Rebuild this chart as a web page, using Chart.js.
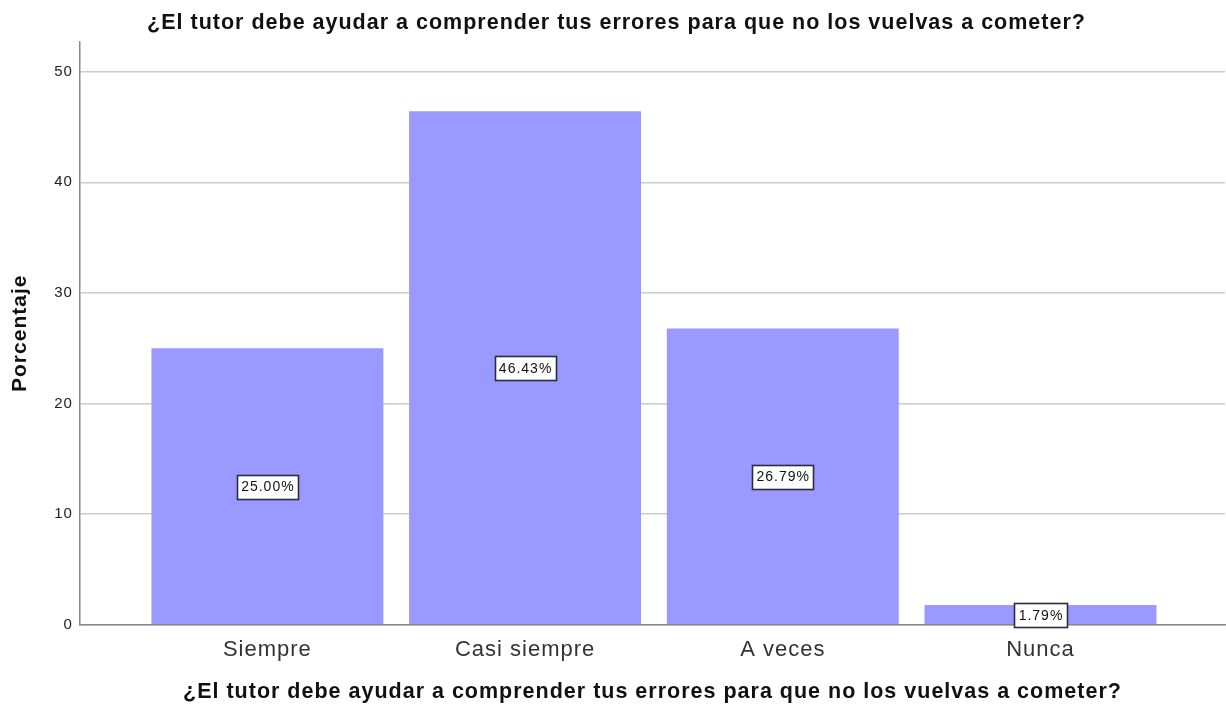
<!DOCTYPE html>
<html>
<head>
<meta charset="utf-8">
<script src="https://cdn.jsdelivr.net/npm/chart.js@4/dist/chart.umd.min.js"></script>
<style>
  html, body { margin: 0; padding: 0; background: #ffffff; }
  #wrap { width: 1226px; height: 711px; position: relative; }
</style>
</head>
<body>
<div id="wrap"><canvas id="chart" width="1226" height="711"></canvas></div>
<script>
const questionText = '¿El tutor debe ayudar a comprender tus errores para que no los vuelvas a cometer?';
const categories = ['Siempre', 'Casi siempre', 'A veces', 'Nunca'];
const percentages = [25.00, 46.43, 26.79, 1.79];
const yTickValues = [0, 10, 20, 30, 40, 50];

const FONT = '"Liberation Sans", Arial, sans-serif';
const LETTER_SPACING = '1px';

// Slightly spaced-out lettering for every text drawn on the canvas
const spacedText = {
  id: 'spacedText',
  beforeUpdate(chart) { chart.ctx.letterSpacing = LETTER_SPACING; },
  beforeLayout(chart) { chart.ctx.letterSpacing = LETTER_SPACING; },
  beforeDraw(chart) { chart.ctx.letterSpacing = LETTER_SPACING; }
};

// Boxed percentage label in the middle of each bar
const barValueLabels = {
  id: 'barValueLabels',
  afterDatasetsDraw(chart) {
    const ctx = chart.ctx;
    const meta = chart.getDatasetMeta(0);
    const yScale = chart.scales.y;
    ctx.save();
    ctx.letterSpacing = LETTER_SPACING;
    ctx.font = '14px ' + FONT;
    ctx.textAlign = 'center';
    ctx.textBaseline = 'middle';
    meta.data.forEach((bar, i) => {
      const v = percentages[i];
      const text = v.toFixed(2) + '%';
      const cx = bar.x;
      const cy = yScale.getPixelForValue(v / 2);
      const w = Math.round(ctx.measureText(text).width + 8);
      const h = 24;
      const x0 = Math.round(cx - w / 2) + 0.5;
      const y0 = Math.round(cy - h / 2) + 0.5;
      ctx.fillStyle = '#ffffff';
      ctx.fillRect(x0, y0, w, h);
      ctx.strokeStyle = '#2b2b3a';
      ctx.lineWidth = 1.6;
      ctx.strokeRect(x0, y0, w, h);
      ctx.fillStyle = '#111111';
      ctx.fillText(text, cx + 0.5, cy + 1);
    });
    ctx.restore();
  }
};

new Chart(document.getElementById('chart'), {
  type: 'bar',
  data: {
    datasets: [{
      data: percentages.map((v, i) => ({ x: i, y: v })),
      backgroundColor: '#9999ff',
      borderWidth: 0,
      categoryPercentage: 0.9,
      barPercentage: 1.0
    }]
  },
  plugins: [spacedText, barValueLabels],
  options: {
    responsive: false,
    animation: false,
    devicePixelRatio: 1,
    layout: { padding: { left: 8, right: 1, top: 0, bottom: 6 } },
    plugins: {
      legend: { display: false },
      tooltip: { enabled: false },
      title: {
        display: true,
        text: questionText,
        color: '#111111',
        font: { family: FONT, size: 21.5, weight: 'bold' },
        padding: { top: 10, bottom: 6 }
      }
    },
    scales: {
      x: {
        type: 'linear',
        offset: false,
        min: -0.7276,
        max: 3.716,
        afterBuildTicks(scale) {
          scale.ticks = categories.map((c, i) => ({ value: i }));
        },
        ticks: {
          autoSkip: false,
          maxRotation: 0,
          padding: 12,
          color: '#333333',
          font: { family: FONT, size: 22 },
          callback: (value) => categories[value]
        },
        grid: { display: false, drawTicks: false, offset: false },
        border: { display: true, color: '#888888', width: 1.5 },
        title: {
          display: true,
          text: questionText,
          color: '#111111',
          font: { family: FONT, size: 21.5, weight: 'bold' },
          padding: { top: 4, bottom: 0 }
        }
      },
      y: {
        min: 0,
        max: 52.7,
        afterBuildTicks(scale) {
          scale.ticks = yTickValues.map(v => ({ value: v }));
        },
        ticks: {
          padding: 7,
          color: '#222222',
          font: { family: FONT, size: 15 }
        },
        grid: { color: '#cccccc', lineWidth: 1.5, drawTicks: false },
        border: { display: true, color: '#888888', width: 1.5 },
        title: {
          display: true,
          text: 'Porcentaje',
          color: '#111111',
          font: { family: FONT, size: 21, weight: 'bold' },
          padding: { top: 0, bottom: 14 }
        }
      }
    }
  }
});
</script>
</body>
</html>
